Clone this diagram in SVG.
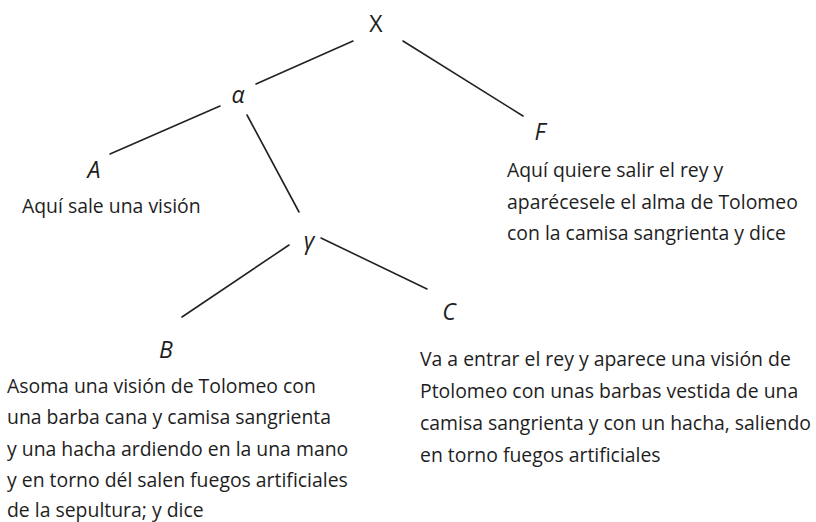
<svg xmlns="http://www.w3.org/2000/svg" width="816" height="522" viewBox="0 0 816 522">
<style>
.e{stroke:#222;stroke-width:1.6;fill:none;stroke-linecap:round}
.l{font-family:"Open Sans","Noto Sans",sans-serif;font-size:23px;fill:#1e1e1e;text-anchor:middle}
.i{font-style:italic}
.t{font-family:"Open Sans","Noto Sans",sans-serif;font-size:19.4px;fill:#1e1e1e;font-variant-ligatures:none}
</style>
<rect width="816" height="522" fill="#fff"/>
<g id="edges">
<line class="e" x1="353" y1="41" x2="256" y2="84"/>
<line class="e" x1="403" y1="41" x2="523" y2="116"/>
<line class="e" x1="220" y1="106" x2="110" y2="154"/>
<line class="e" x1="247" y1="115" x2="299" y2="212"/>
<line class="e" x1="289" y1="245" x2="182" y2="317"/>
<line class="e" x1="321" y1="238" x2="427" y2="289"/>
</g>
<g id="nX"><text class="l" x="376" y="32">X</text></g>
<g id="nalpha"><text class="l i" x="238" y="103">α</text></g>
<g id="nF"><text class="l i" x="540" y="140">F</text>
<text class="t" x="507" y="177">Aquí quiere salir el rey y</text>
<text class="t" x="507" y="209">aparécesele el alma de Tolomeo</text>
<text class="t" x="507" y="240">con la camisa sangrienta y dice</text></g>
<g id="nA"><text class="l i" x="94" y="178">A</text>
<text class="t" x="22" y="213">Aquí sale una visión</text></g>
<g id="ngamma"><text class="l i" x="309" y="249">γ</text></g>
<g id="nB"><text class="l i" x="166" y="358">B</text>
<text class="t" x="7" y="393">Asoma una visión de Tolomeo con</text>
<text class="t" x="7" y="424">una barba cana y camisa sangrienta</text>
<text class="t" x="7" y="456">y una hacha ardiendo en la una mano</text>
<text class="t" x="7" y="487">y en torno dél salen fuegos artificiales</text>
<text class="t" x="7" y="517">de la sepultura; y dice</text></g>
<g id="nC"><text class="l i" x="449" y="320">C</text>
<text class="t" x="420" y="366">Va a entrar el rey y aparece una visión de</text>
<text class="t" x="420" y="398">Ptolomeo con unas barbas vestida de una</text>
<text class="t" x="420" y="430">camisa sangrienta y con un hacha, saliendo</text>
<text class="t" x="420" y="462">en torno fuegos artificiales</text></g>
</svg>
